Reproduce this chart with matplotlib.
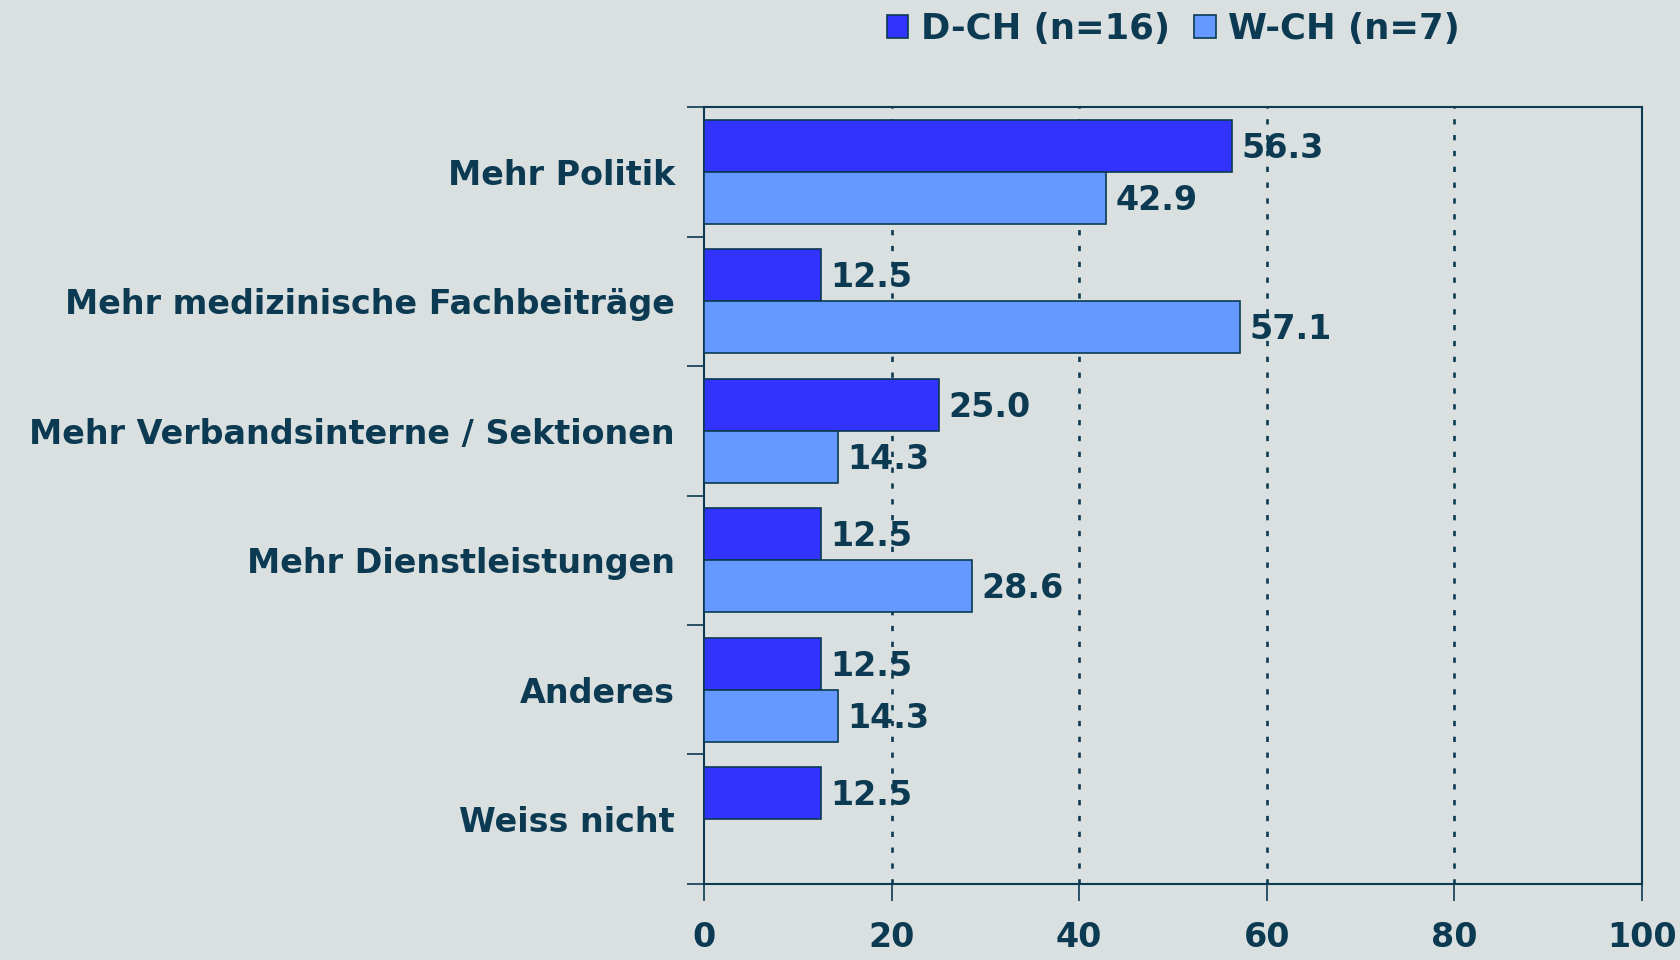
import numpy as np
import matplotlib
matplotlib.use("Agg")
import matplotlib.pyplot as plt

# Data
categories = ["Mehr Politik", "Mehr medizinische Fachbeiträge",
              "Mehr Verbandsinterne / Sektionen", "Mehr Dienstleistungen",
              "Anderes", "Weiss nicht"]
d_ch = [56.3, 12.5, 25.0, 12.5, 12.5, 12.5]
w_ch = [42.9, 57.1, 14.3, 28.6, 14.3, 0.0]
series_names = ["D-CH (n=16)", "W-CH (n=7)"]
xticks = [0, 20, 40, 60, 80, 100]

bg = "#DAE0E0"
ink = "#0B3A52"
c_d = "#3333FF"
c_w = "#6699FF"

plt.rcParams['font.family'] = ['DejaVu Sans']
plt.rcParams['font.weight'] = 'bold'

fig = plt.figure(figsize=(16.81, 9.6), dpi=100, facecolor=bg)
ax = fig.add_axes([0.4188, 0.0792, 0.5580, 0.8093])
ax.set_facecolor(bg)

y = np.arange(len(categories))
h = 0.4
b1 = ax.barh(y - h / 2, d_ch, height=h, color=c_d, edgecolor=ink, linewidth=1.2,
             label=series_names[0], zorder=3)
b2 = ax.barh(y + h / 2, w_ch, height=h, color=c_w, edgecolor=ink, linewidth=1.2,
             label=series_names[1], zorder=3)

# value labels
for bars, vals in ((b1, d_ch), (b2, w_ch)):
    for bar, v in zip(bars, vals):
        if v <= 0:
            continue
        ax.text(bar.get_width() + 1.0, bar.get_y() + bar.get_height() / 2 + 0.02,
                f"{v:.1f}", va='center', ha='left', fontsize=24,
                fontweight='bold', color=ink, zorder=4)

ax.set_xlim(0, 100)
ax.set_ylim(len(categories) - 0.5, -0.5)
ax.set_xticks(xticks)
ax.set_xticklabels([str(t) for t in xticks], fontsize=24, fontweight='bold', color=ink)
ax.tick_params(axis='x', direction='out', length=12, width=1.2, color=ink, pad=15)

ax.set_yticks(y)
ax.set_yticklabels(categories, fontsize=24, fontweight='bold', color=ink)
ax.set_yticks(np.arange(-0.5, len(categories)), minor=True)
ax.tick_params(axis='y', which='major', length=0, pad=21)
ax.tick_params(axis='y', which='minor', direction='out', length=12, width=1.2, color=ink)

# dotted vertical gridlines (not at 0)
for t in xticks[1:]:
    ax.axvline(t, linestyle=(0, (2, 4)), color=ink, linewidth=1.9, zorder=1)
for s in ax.spines.values():
    s.set_color(ink)
    s.set_linewidth(1.5)

fig.legend(handles=[b1, b2], loc='center', bbox_to_anchor=(0.698, 0.970),
           ncol=2, frameon=False, prop={'weight': 'bold', 'size': 25.5},
           handlelength=0.6, handleheight=0.6, handletextpad=0.35, columnspacing=0.7,
           labelcolor=ink)

fig.savefig("out.png", dpi=100, facecolor=bg)
